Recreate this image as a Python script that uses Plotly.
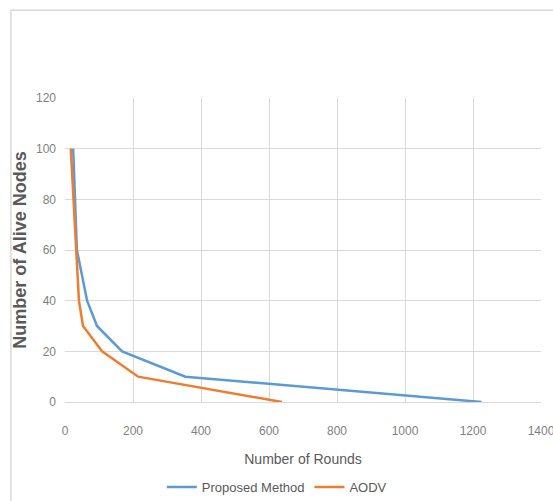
import plotly.graph_objects as go

proposed_rounds = [24, 35, 65, 94, 168, 354, 1225]
proposed_alive = [100, 60, 40, 30, 20, 10, 0]
aodv_rounds = [17, 32, 41, 53, 109, 215, 638]
aodv_alive = [100, 60, 40, 30, 20, 10, 0]

x_ticks = [0, 200, 400, 600, 800, 1000, 1200, 1400]
y_ticks = [0, 20, 40, 60, 80, 100, 120]

FONT = "Liberation Sans Narrow, Liberation Sans, Arial"

fig = go.Figure()
fig.add_trace(go.Scatter(x=proposed_rounds, y=proposed_alive, mode="lines",
                         name="Proposed Method", line=dict(color="#5B9BD5", width=2.5)))
fig.add_trace(go.Scatter(x=aodv_rounds, y=aodv_alive, mode="lines",
                         name="AODV", line=dict(color="#ED7D31", width=2.5)))

fig.update_layout(
    width=553, height=501,
    margin=dict(l=65, r=12, t=98, b=99, autoexpand=False),
    paper_bgcolor="white", plot_bgcolor="white",
    font=dict(family=FONT, color="#7f7f7f", size=12),
    showlegend=True,
    legend=dict(orientation="h", x=0.445, xanchor="center", y=-0.28, yanchor="middle",
                font=dict(size=13, color="#595959"), itemwidth=30, tracegroupgap=0),
    shapes=[dict(type="rect", xref="paper", yref="paper", x0=-0.1137, x1=1.1, y0=-0.4, y1=1.289,
                 line=dict(color="#d9d9d9", width=1.5), fillcolor="rgba(0,0,0,0)", layer="below")],
)
fig.update_xaxes(range=[0, 1400], tickvals=x_ticks, showgrid=True, gridcolor="#d9d9d9",
                 zeroline=False, showline=True, linecolor="#d9d9d9", automargin=False,
                 ticks="outside", ticklen=0, ticklabelstandoff=18, ticklabeloverflow="allow",
                 title=dict(text="Number of Rounds", font=dict(size=14, color="#595959"), standoff=16),
                 tickfont=dict(size=12, color="#7f7f7f"))
fig.update_yaxes(range=[0, 120], tickvals=y_ticks, showgrid=True, gridcolor="#d9d9d9",
                 zeroline=False, showline=False, automargin=False,
                 ticklabelstandoff=8,
                 title=dict(text="<b>Number of Alive Nodes</b>", font=dict(size=18, color="#595959"), standoff=4),
                 tickfont=dict(size=12, color="#7f7f7f"))

fig.write_html("out.html", config={"displayModeBar": False},
               post_script="document.body.style.margin='0';document.body.style.overflow='hidden';")
